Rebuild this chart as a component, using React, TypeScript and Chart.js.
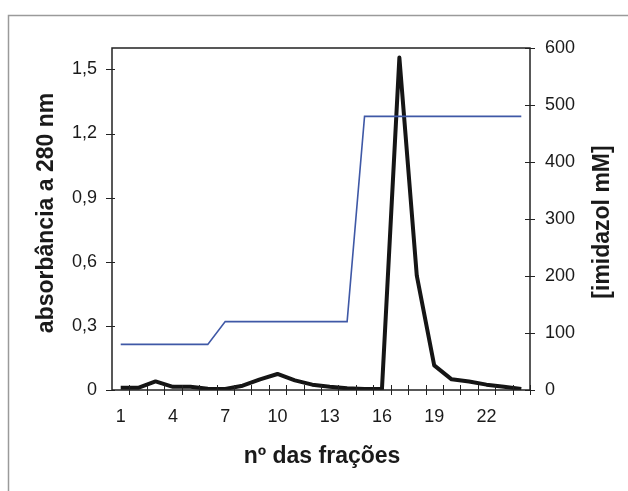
import React, { useEffect, useRef } from "react";
import { Chart, registerables } from "chart.js";

Chart.register(...registerables);

const fractions = [1, 2, 3, 4, 5, 6, 7, 8, 9, 10, 11, 12, 13, 14, 15, 16, 17, 18, 19, 20, 21, 22, 23, 24];
const absorbance = [0.01, 0.01, 0.04, 0.015, 0.015, 0.006, 0.005, 0.02, 0.05, 0.075, 0.045, 0.025, 0.015, 0.008, 0.005, 0.005, 1.555, 0.535, 0.115, 0.05, 0.04, 0.025, 0.015, 0.005];
const imidazol = [80, 80, 80, 80, 80, 80, 120, 120, 120, 120, 120, 120, 120, 120, 480, 480, 480, 480, 480, 480, 480, 480, 480, 480];
const xTickLabels = [1, 4, 7, 10, 13, 16, 19, 22];
const leftTicks = [0, 0.3, 0.6, 0.9, 1.2, 1.5];
const rightTicks = [0, 100, 200, 300, 400, 500, 600];

const FONT = "'Liberation Sans', Arial, sans-serif";

export default function App() {
  const ref = useRef<HTMLCanvasElement>(null);
  useEffect(() => {
    if (!ref.current) return;
    const decor = {
      id: "decor",
      beforeDraw(chart: any) {
        const ctx = chart.ctx;
        ctx.save();
        ctx.fillStyle = "#fff";
        ctx.fillRect(0, 0, chart.width, chart.height);
        ctx.strokeStyle = "#9a9a9a";
        ctx.lineWidth = 1.5;
        ctx.strokeRect(8.5, 15.5, 800, 600);
        ctx.restore();
      },
      afterDraw(chart: any) {
        const ctx = chart.ctx;
        const a = chart.chartArea;
        const x = chart.scales.x;
        const yl = chart.scales.y;
        const yr = chart.scales.y2;
        ctx.save();
        ctx.strokeStyle = "#222";
        ctx.lineWidth = 1.5;
        ctx.strokeRect(a.left, a.top, a.right - a.left, a.bottom - a.top);
        ctx.lineWidth = 1;
        ctx.beginPath();
        for (const v of leftTicks) {
          const py = Math.round(yl.getPixelForValue(v)) + 0.5;
          ctx.moveTo(a.left - 6, py);
          ctx.lineTo(a.left + 3, py);
        }
        for (const v of rightTicks) {
          const py = Math.round(yr.getPixelForValue(v)) + 0.5;
          ctx.moveTo(a.right - 5, py);
          ctx.lineTo(a.right + 5, py);
        }
        for (const f of fractions) {
          const px = Math.round(x.getPixelForValue(f + 0.5)) + 0.5;
          ctx.moveTo(px, a.bottom - 5);
          ctx.lineTo(px, a.bottom + 5);
        }
        ctx.stroke();
        ctx.fillStyle = "#1a1a1a";
        ctx.font = `bold 23px ${FONT}`;
        ctx.textAlign = "center";
        ctx.textBaseline = "middle";
        ctx.fillText("nº das frações", 322, 457);
        ctx.save();
        ctx.translate(47, 213);
        ctx.rotate(-Math.PI / 2);
        ctx.fillText("absorbância a 280 nm", 0, 0);
        ctx.restore();
        ctx.save();
        ctx.translate(603, 222);
        ctx.rotate(-Math.PI / 2);
        ctx.fillText("[imidazol mM]", 0, 0);
        ctx.restore();
        ctx.restore();
      },
    };
    const chart = new Chart(ref.current, {
      type: "line",
      data: {
        datasets: [
          {
            label: "imidazol",
            data: fractions.map((f, i) => ({ x: f, y: imidazol[i] })),
            yAxisID: "y2",
            borderColor: "#3f58a6",
            borderWidth: 1.6,
            pointRadius: 0,
            tension: 0,
          },
          {
            label: "absorbância",
            data: fractions.map((f, i) => ({ x: f, y: absorbance[i] })),
            yAxisID: "y",
            borderColor: "#151515",
            borderWidth: 4,
            pointRadius: 0,
            tension: 0,
            borderJoinStyle: "round",
          },
        ],
      },
      options: {
        animation: false,
        responsive: false,
        layout: { padding: { top: 48, left: 0, right: 0, bottom: 0 } },
        plugins: { legend: { display: false }, tooltip: { enabled: false } },
        scales: {
          x: {
            type: "linear",
            min: 0.5,
            max: 24.5,
            afterBuildTicks(s: any) {
              s.ticks = xTickLabels.map((v) => ({ value: v }));
            },
            afterFit(s: any) {
              s.height = 101;
            },
            grid: { display: false, drawTicks: false },
            border: { display: false },
            ticks: { color: "#1a1a1a", font: { family: FONT, size: 18 }, padding: 16, maxRotation: 0, autoSkip: false },
          },
          y: {
            position: "left",
            min: 0,
            max: 1.6,
            afterBuildTicks(s: any) {
              s.ticks = leftTicks.map((v) => ({ value: v }));
            },
            afterFit(s: any) {
              s.width = 112;
            },
            grid: { display: false, drawTicks: false },
            border: { display: false },
            ticks: {
              color: "#1a1a1a",
              font: { family: FONT, size: 18 },
              padding: 15,
              callback: (v: any) => String(Math.round(Number(v) * 10) / 10).replace(".", ","),
            },
          },
          y2: {
            position: "right",
            min: 0,
            max: 600,
            afterBuildTicks(s: any) {
              s.ticks = rightTicks.map((v) => ({ value: v }));
            },
            afterFit(s: any) {
              s.width = 98;
            },
            grid: { display: false, drawTicks: false },
            border: { display: false },
            ticks: { color: "#1a1a1a", font: { family: FONT, size: 18 }, padding: 15 },
          },
        },
      },
      plugins: [decor],
    } as any);
    return () => chart.destroy();
  }, []);
  return (
    <div style={{ position: "absolute", left: 0, top: 0, width: 628, height: 491, background: "#fff" }}>
      <canvas ref={ref} width={628} height={491} style={{ display: "block", width: 628, height: 491 }} />
    </div>
  );
}
